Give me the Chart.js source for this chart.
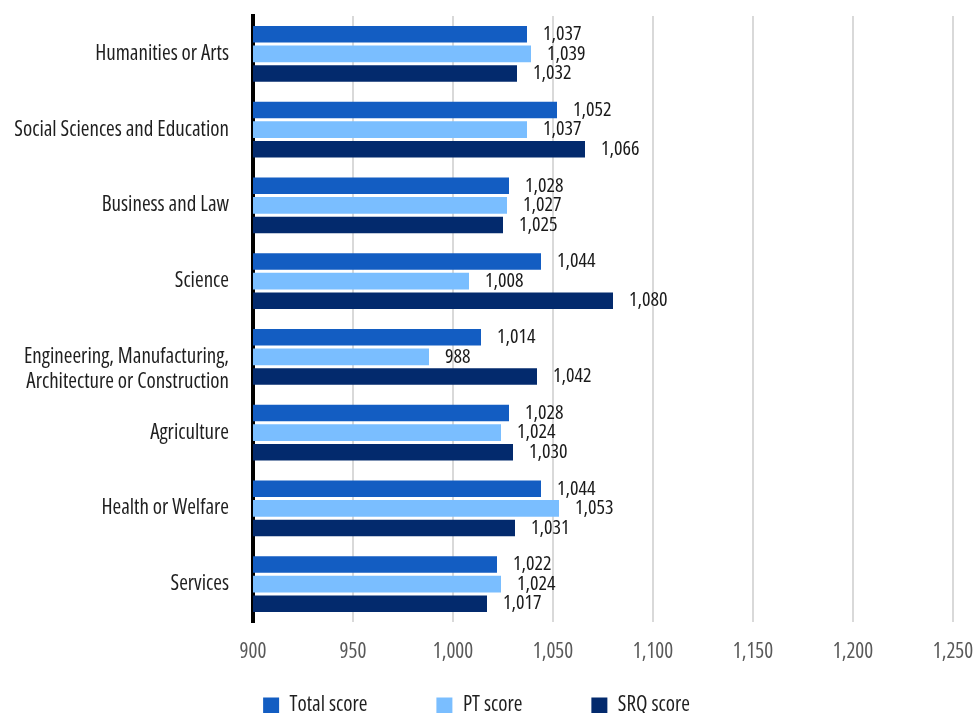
<!DOCTYPE html>
<html>
<head>
<meta charset="utf-8">
<script src="https://cdn.jsdelivr.net/npm/chart.js@4"></script>
<style>
  html, body { margin: 0; padding: 0; background: #fff; }
  #wrap { width: 975px; height: 713px; }
</style>
</head>
<body>
<div id="wrap"><canvas id="scores"></canvas></div>
<script>
// fields of study (blank first line drops the two-line label so it starts at the tick)
const fields = [
  'Humanities or Arts',
  'Social Sciences and Education',
  'Business and Law',
  'Science',
  ['', 'Engineering, Manufacturing,', 'Architecture or Construction'],
  'Agriculture',
  'Health or Welfare',
  'Services'
];
const totalScore = [1037, 1052, 1028, 1044, 1014, 1028, 1044, 1022];
const ptScore    = [1039, 1037, 1027, 1008, 988, 1024, 1053, 1024];
const srqScore   = [1032, 1066, 1025, 1080, 1042, 1030, 1031, 1017];
const xTicks = [900, 950, 1000, 1050, 1100, 1150, 1200, 1250];

// narrow face: Open Sans squeezed with font-stretch (goes in the weight slot of the font string)
const FAMILY = '"Open Sans", "DejaVu Sans Condensed", sans-serif';
const STRETCH = 'semi-condensed';
const SIZE = 21;
const font = { family: FAMILY, weight: STRETCH, size: SIZE, lineHeight: 1 };

// value written just past the end of each bar
const barLabels = {
  id: 'barLabels',
  afterDatasetsDraw(chart) {
    const ctx = chart.ctx;
    ctx.save();
    ctx.font = STRETCH + ' 20px ' + FAMILY;
    ctx.fillStyle = '#1a1a1a';
    ctx.textAlign = 'left';
    ctx.textBaseline = 'middle';
    chart.data.datasets.forEach((ds, i) => {
      const meta = chart.getDatasetMeta(i);
      meta.data.forEach((bar, j) => {
        ctx.fillText(ds.data[j].toLocaleString('en-US'), bar.x + 16, bar.y);
      });
    });
    ctx.restore();
  }
};

// the x axis is packed thin so the wide-spaced legend fits underneath;
// stretch its box back down afterwards so the tick labels are not clipped
const xLabelRoom = {
  id: 'xLabelRoom',
  afterLayout(chart) {
    const x = chart.scales.x;
    x.bottom = x.top + 50;
  }
};

new Chart(document.getElementById('scores'), {
  type: 'bar',
  data: {
    labels: fields,
    datasets: [
      { label: 'Total score', data: totalScore, backgroundColor: '#135dc2' },
      { label: 'PT score', data: ptScore, backgroundColor: '#7abeff' },
      { label: 'SRQ score', data: srqScore, backgroundColor: '#032a6d' }
    ]
  },
  options: {
    indexAxis: 'y',
    responsive: true,
    maintainAspectRatio: false,
    animation: false,
    barPercentage: 0.846,
    categoryPercentage: 0.773,
    layout: { padding: { top: 16, right: 22, bottom: -13, left: 0 } },
    scales: {
      x: {
        min: 900,
        max: 1250,
        afterBuildTicks(scale) {
          scale.ticks = xTicks.map(v => ({ value: v }));
        },
        afterFit(scale) {
          scale.paddingLeft = 0;
          scale.paddingRight = 0;
          scale.height = 4;
        },
        grid: { color: '#d9d9d9', lineWidth: 2, drawTicks: false },
        border: { display: false },
        ticks: {
          padding: 20,
          color: '#595959',
          font,
          callback: v => v.toLocaleString('en-US')
        }
      },
      y: {
        afterFit(scale) {
          scale.width = 253;
          scale.paddingTop = 0;
          scale.paddingBottom = 0;
        },
        grid: { display: false },
        border: { display: true, color: '#000', width: 4 },
        ticks: {
          autoSkip: false,
          padding: 16,
          color: '#1f1f1f',
          font: { family: FAMILY, weight: STRETCH, size: SIZE, lineHeight: 1.2 }
        }
      }
    },
    plugins: {
      legend: {
        position: 'bottom',
        labels: {
          boxWidth: 16,
          boxHeight: 16,
          padding: 69,
          color: '#1f1f1f',
          font
        }
      },
      tooltip: { enabled: false }
    }
  },
  plugins: [barLabels, xLabelRoom]
});
</script>
</body>
</html>
